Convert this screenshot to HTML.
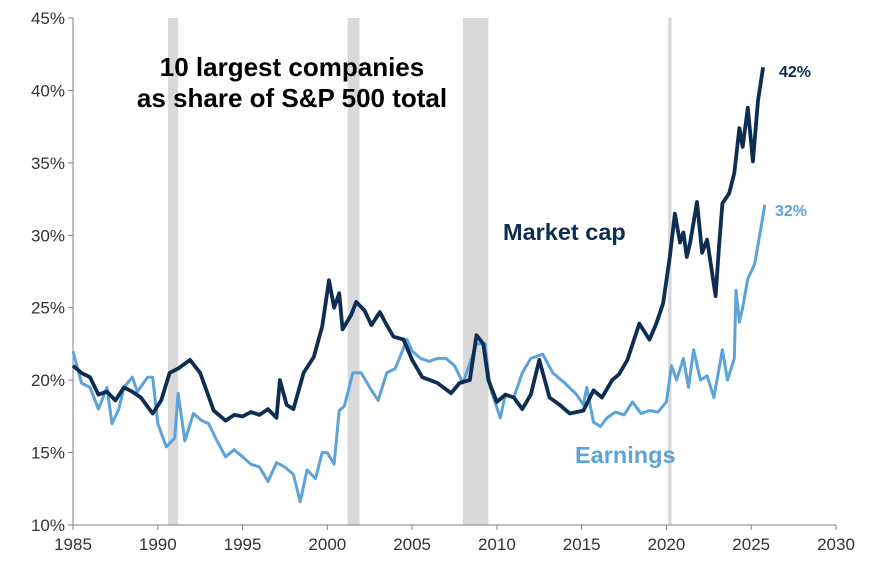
<!DOCTYPE html>
<html><head><meta charset="utf-8">
<style>
html,body{margin:0;padding:0;background:#fff;}
svg{display:block;font-family:"Liberation Sans",Arial,sans-serif;}
</style></head>
<body>
<svg id="chart" width="877" height="569" viewBox="0 0 877 569" xmlns="http://www.w3.org/2000/svg">
<g id="bands"></g>
<g id="axes"></g>
<g id="series"></g>
<text x="292" y="76" text-anchor="middle" font-size="26" font-weight="bold" fill="#000">10 largest companies</text>
<text x="292" y="107" text-anchor="middle" font-size="26" font-weight="bold" fill="#000">as share of S&amp;P 500 total</text>
<text x="503" y="240" font-size="23.5" font-weight="bold" fill="#0d2d52">Market cap</text>
<text x="575" y="463" font-size="23.5" font-weight="bold" fill="#5ba3d9">Earnings</text>
<text x="779" y="77" font-size="16" font-weight="bold" fill="#0d2d52">42%</text>
<text x="775" y="216" font-size="16" font-weight="bold" fill="#5ba3d9">32%</text>
</svg>
<script>
const yTicks = [10,15,20,25,30,35,40,45];
const xTicks = [1985,1990,1995,2000,2005,2010,2015,2020,2025,2030];
const recessionStarts = [1990.6,2001.2,2008.0,2020.1];
const recessionEnds = [1991.2,2001.9,2009.5,2020.3];
const capYears = [1985,1985.5,1986,1986.5,1987,1987.5,1988,1988.5,1989,1989.7,1990.2,1990.7,1991.2,1991.9,1992.5,1993.3,1994,1994.5,1995,1995.5,1996,1996.5,1997,1997.2,1997.6,1998,1998.6,1999.2,1999.7,2000.1,2000.4,2000.7,2000.9,2001.4,2001.7,2002.2,2002.6,2003.1,2003.5,2003.9,2004.5,2005,2005.6,2006.5,2007.3,2007.8,2008.4,2008.8,2009.2,2009.5,2010,2010.5,2011,2011.5,2012,2012.5,2013.1,2013.7,2014.3,2015.1,2015.7,2016.2,2016.8,2017.2,2017.7,2018.4,2019.0,2019.4,2019.8,2020.2,2020.5,2020.8,2021.0,2021.2,2021.4,2021.8,2022.1,2022.4,2022.9,2023.1,2023.3,2023.7,2024.0,2024.3,2024.5,2024.8,2025.1,2025.4,2025.7];
const capValues = [21.0,20.5,20.2,19.0,19.2,18.6,19.5,19.2,18.8,17.7,18.6,20.5,20.8,21.4,20.5,17.9,17.2,17.6,17.5,17.8,17.6,18.0,17.4,20.0,18.3,18.0,20.5,21.6,23.7,26.9,25.0,26.0,23.5,24.5,25.4,24.8,23.8,24.7,23.8,23.0,22.8,21.4,20.2,19.8,19.1,19.8,20.0,23.1,22.5,20.0,18.5,19.0,18.8,18.0,19.0,21.4,18.8,18.3,17.7,17.9,19.3,18.8,20.0,20.4,21.4,23.9,22.8,23.9,25.3,28.5,31.5,29.5,30.2,28.5,29.5,32.3,28.8,29.7,25.8,29.2,32.2,32.9,34.3,37.4,36.1,38.8,35.1,39.3,41.6];
const earnYears = [1985,1985.5,1986,1986.5,1987,1987.3,1987.7,1988,1988.5,1988.8,1989.4,1989.7,1990,1990.5,1991,1991.2,1991.6,1992.1,1992.6,1993,1993.5,1994,1994.5,1995,1995.5,1996,1996.5,1997,1997.5,1998,1998.4,1998.8,1999.3,1999.7,2000,2000.4,2000.7,2001,2001.5,2002,2002.5,2003,2003.5,2004,2004.7,2005,2005.5,2006,2006.5,2007,2007.5,2008,2008.5,2008.8,2009.3,2009.6,2010.2,2010.5,2011,2011.5,2012,2012.7,2013.3,2014,2014.7,2015.1,2015.3,2015.7,2016.1,2016.5,2017,2017.5,2018,2018.5,2019,2019.5,2020,2020.3,2020.6,2021,2021.3,2021.6,2022,2022.4,2022.8,2023.3,2023.6,2024,2024.1,2024.3,2024.5,2024.8,2025.2,2025.5,2025.8];
const earnValues = [22.0,19.8,19.5,18.0,19.5,17.0,18.0,19.5,20.2,19.2,20.2,20.2,17.0,15.4,16.0,19.1,15.8,17.7,17.2,17.0,15.8,14.7,15.2,14.7,14.2,14.0,13.0,14.3,14.0,13.5,11.6,13.8,13.2,15.0,15.0,14.2,17.9,18.2,20.5,20.5,19.5,18.6,20.5,20.8,22.8,22.0,21.5,21.3,21.5,21.5,21.0,19.8,21.5,22.5,22.5,19.5,17.4,19.0,18.8,20.5,21.5,21.8,20.5,19.8,19.0,18.3,19.5,17.1,16.8,17.4,17.8,17.6,18.5,17.7,17.9,17.8,18.5,21.0,20.0,21.5,19.5,22.1,20.0,20.3,18.8,22.1,20.0,21.5,26.2,24.0,25.0,27.0,28.0,30.0,32.1];

const NS='http://www.w3.org/2000/svg';
const X0=73,X1=836,Y0=525,Y1=18;
function xs(yr){return X0+(yr-1985)/(2030-1985)*(X1-X0);}
function ys(v){return Y0-(v-10)/(45-10)*(Y0-Y1);}
function mk(tag,attrs,parent){const e=document.createElementNS(NS,tag);for(const k in attrs)e.setAttribute(k,attrs[k]);parent.appendChild(e);return e;}

const bands=document.getElementById('bands');
recessionStarts.forEach((s,i)=>{
  const r=mk('rect',{x:xs(s),y:Y1,width:xs(recessionEnds[i])-xs(s),height:Y0-Y1,fill:'#d9d9d9'},bands);
  
  
});

const axes=document.getElementById('axes');
const yAxis=mk('line',{x1:X0,y1:Y1,x2:X0,y2:Y0,stroke:'#808080','stroke-width':1},axes);


const xAxis=mk('line',{x1:X0,y1:Y0,x2:X1,y2:Y0,stroke:'#808080','stroke-width':1},axes);


yTicks.forEach(v=>{
  mk('line',{x1:X0-5,y1:ys(v),x2:X0,y2:ys(v),stroke:'#808080'},axes);
  const t=mk('text',{x:X0-8,y:ys(v)+6,'text-anchor':'end','font-size':17,fill:'#333'},axes);
  t.textContent=v+'%';
  
  
});
xTicks.forEach(v=>{
  mk('line',{x1:xs(v),y1:Y0,x2:xs(v),y2:Y0+5,stroke:'#808080'},axes);
  const t=mk('text',{x:xs(v),y:Y0+25,'text-anchor':'middle','font-size':17,fill:'#333'},axes);
  t.textContent=v;
  
  
});

const series=document.getElementById('series');
function line(xsArr,vals,color,w,name){
  const d=xsArr.map((yr,i)=>(i?'L':'M')+xs(yr).toFixed(1)+','+ys(vals[i]).toFixed(1)).join('');
  const p=mk('path',{d:d,fill:'none',stroke:color,'stroke-width':w,'stroke-linejoin':'round'},series);
  
  
}
line(earnYears,earnValues,'#5ba3d9',3,'earnings-line');
line(capYears,capValues,'#0d2d52',3.8,'market-cap-line');
</script>
</body></html>
